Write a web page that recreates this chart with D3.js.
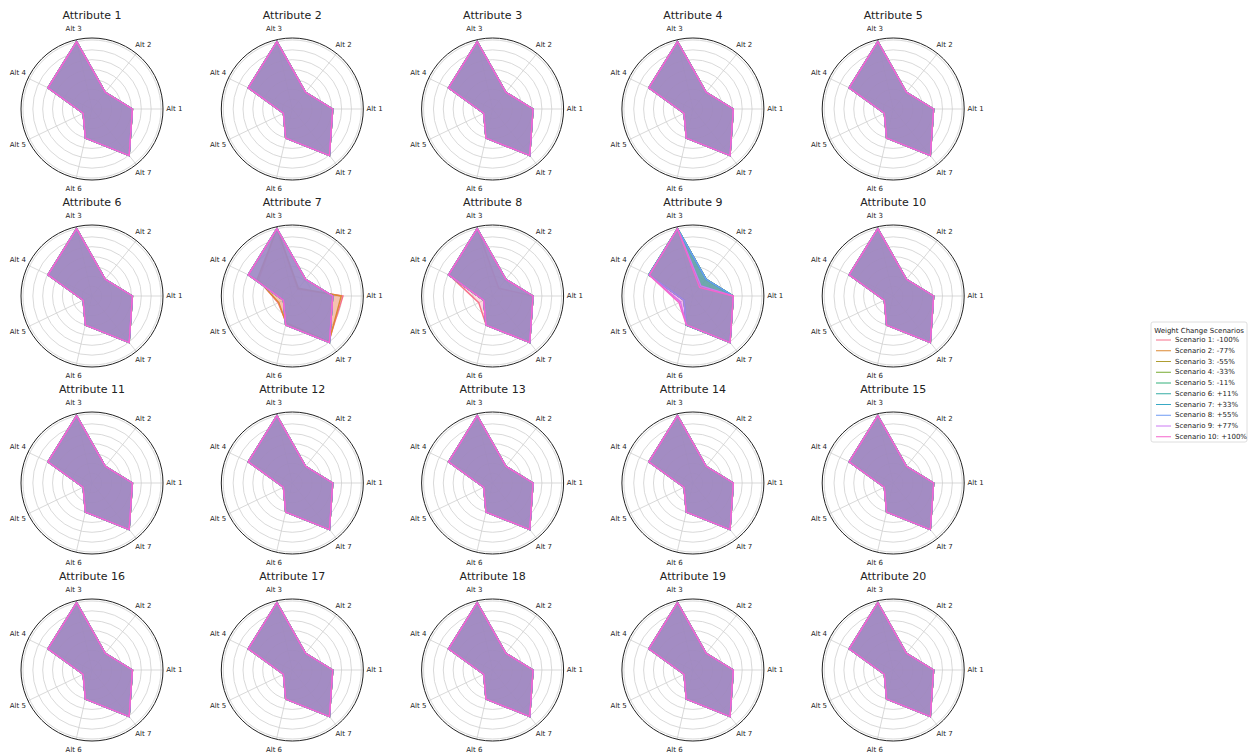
<!DOCTYPE html>
<html>
<head>
<meta charset="utf-8">
<script src="https://cdn.jsdelivr.net/npm/d3@7"></script>
<style>
  body { margin: 0; background: #fff; }
  text { font-family: "DejaVu Sans", sans-serif; fill: #222; }
</style>
</head>
<body>
<div id="graph"></div>
<script>
let w = 1252;
let h = 755;

let alternatives = ["Alt 1", "Alt 2", "Alt 3", "Alt 4", "Alt 5", "Alt 6", "Alt 7"];
let attributes = [];
for (let i = 1; i <= 20; i++) attributes.push("Attribute " + i);
let scenarios = ["Scenario 1: -100%", "Scenario 2: -77%", "Scenario 3: -55%", "Scenario 4: -33%", "Scenario 5: -11%",
  "Scenario 6: +11%", "Scenario 7: +33%", "Scenario 8: +55%", "Scenario 9: +77%", "Scenario 10: +100%"];
let colors = ["#f77189", "#dc8932", "#ae9d31", "#77ab31", "#33b07a", "#36ada4", "#38a9c5", "#6e9bf4", "#cc7af4", "#f565cc"];

// scores per alternative (Alt 1 .. Alt 7)
let baseScores = [0.205, 0.108, 0.35, 0.248, 0.05, 0.151, 0.302];
let attr7Scenario1 = [0.257, 0.045, 0.35, 0.19, 0.08, 0.138, 0.296];
let attr7Scenario2 = [0.248, 0.05, 0.35, 0.197, 0.076, 0.142, 0.298];
let attr8Scenario1 = [0.205, 0.05, 0.35, 0.244, 0.078, 0.15, 0.302];
let attr9Scenario9 = [0.205, 0.065, 0.35, 0.246, 0.07, 0.15, 0.302];
let attr9Scenario10 = [0.205, 0.055, 0.35, 0.245, 0.078, 0.15, 0.302];

let radialTicks = [0.05, 0.10, 0.15, 0.20, 0.25, 0.30, 0.35];
let rMax = 0.36;

// which scenarios move away from the base scores
let overrides = {
  "Attribute 7": { 0: attr7Scenario1, 1: attr7Scenario2 },
  "Attribute 8": { 0: attr8Scenario1 },
  "Attribute 9": { 8: attr9Scenario9, 9: attr9Scenario10 }
};

function scoresFor(attr, s) {
  if (overrides[attr] && overrides[attr][s]) return overrides[attr][s];
  return baseScores;
}

let rScale = d3.scaleLinear().domain([0, rMax]).range([0, 71]);
let angleScale = d3.scaleLinear().domain([0, alternatives.length]).range([0, 2 * Math.PI]);

let viz = d3.select("#graph").append("svg")
  .attr("width", w)
  .attr("height", h);

let radarLine = d3.lineRadial()
  .angle((d, i) => Math.PI / 2 - angleScale(i))
  .radius(d => rScale(d))
  .curve(d3.curveLinearClosed);

attributes.forEach(function(attr, k) {
  let col = k % 5;
  let row = Math.floor(k / 5);
  let cx = 92 + col * 200.3;
  let cy = 109 + row * 187;

  let g = viz.append("g").attr("class", "radar")
    .attr("transform", "translate(" + cx + "," + cy + ")");

  // circular grid
  g.selectAll(".ring").data(radialTicks).enter()
    .append("circle")
    .attr("class", "ring")
    .attr("r", d => rScale(d))
    .attr("fill", "none")
    .attr("stroke", "#cfcfcf")
    .attr("stroke-width", 0.8);

  // spokes
  g.selectAll(".spoke").data(alternatives).enter()
    .append("line")
    .attr("class", "spoke")
    .attr("x1", 0).attr("y1", 0)
    .attr("x2", (d, i) => rScale(rMax) * Math.cos(angleScale(i)))
    .attr("y2", (d, i) => -rScale(rMax) * Math.sin(angleScale(i)))
    .attr("stroke", "#cfcfcf")
    .attr("stroke-width", 0.8);

  // scenarios
  scenarios.forEach(function(sc, s) {
    let vals = scoresFor(attr, s);
    g.append("path")
      .attr("d", radarLine(vals))
      .attr("fill", colors[s])
      .attr("fill-opacity", 0.27)
      .attr("stroke", colors[s])
      .attr("stroke-width", 1.4);
  });

  // outer frame
  g.append("circle")
    .attr("r", rScale(rMax))
    .attr("fill", "none")
    .attr("stroke", "#222")
    .attr("stroke-width", 1);

  // alt labels
  g.selectAll(".alt").data(alternatives).enter()
    .append("text")
    .attr("class", "alt")
    .attr("x", (d, i) => rScale(rMax * 1.16) * Math.cos(angleScale(i)))
    .attr("y", (d, i) => -rScale(rMax * 1.16) * Math.sin(angleScale(i)))
    .attr("text-anchor", "middle")
    .attr("dominant-baseline", "central")
    .style("font-size", "7px")
    .text(d => d);

  g.append("text")
    .attr("x", 0)
    .attr("y", -90)
    .attr("text-anchor", "middle")
    .style("font-size", "11px")
    .text(attr);
});

// legend
let legend = viz.append("g").attr("class", "legend").attr("transform", "translate(1151,322)");
legend.append("rect")
  .attr("width", 96).attr("height", 120)
  .attr("rx", 2)
  .attr("fill", "#fff")
  .attr("stroke", "#d6d6d6")
  .attr("stroke-width", 0.8);
legend.append("text")
  .attr("x", 48).attr("y", 9)
  .attr("text-anchor", "middle")
  .attr("dominant-baseline", "central")
  .style("font-size", "7px")
  .text("Weight Change Scenarios");
let items = legend.selectAll(".item").data(scenarios).enter()
  .append("g").attr("class", "item")
  .attr("transform", (d, i) => "translate(0," + (18 + i * 10.75) + ")");
items.append("line")
  .attr("x1", 5).attr("x2", 20)
  .attr("stroke", (d, i) => colors[i])
  .attr("stroke-width", 1);
items.append("text")
  .attr("x", 24)
  .attr("dominant-baseline", "central")
  .style("font-size", "7px")
  .text(d => d);
</script>
</body>
</html>
